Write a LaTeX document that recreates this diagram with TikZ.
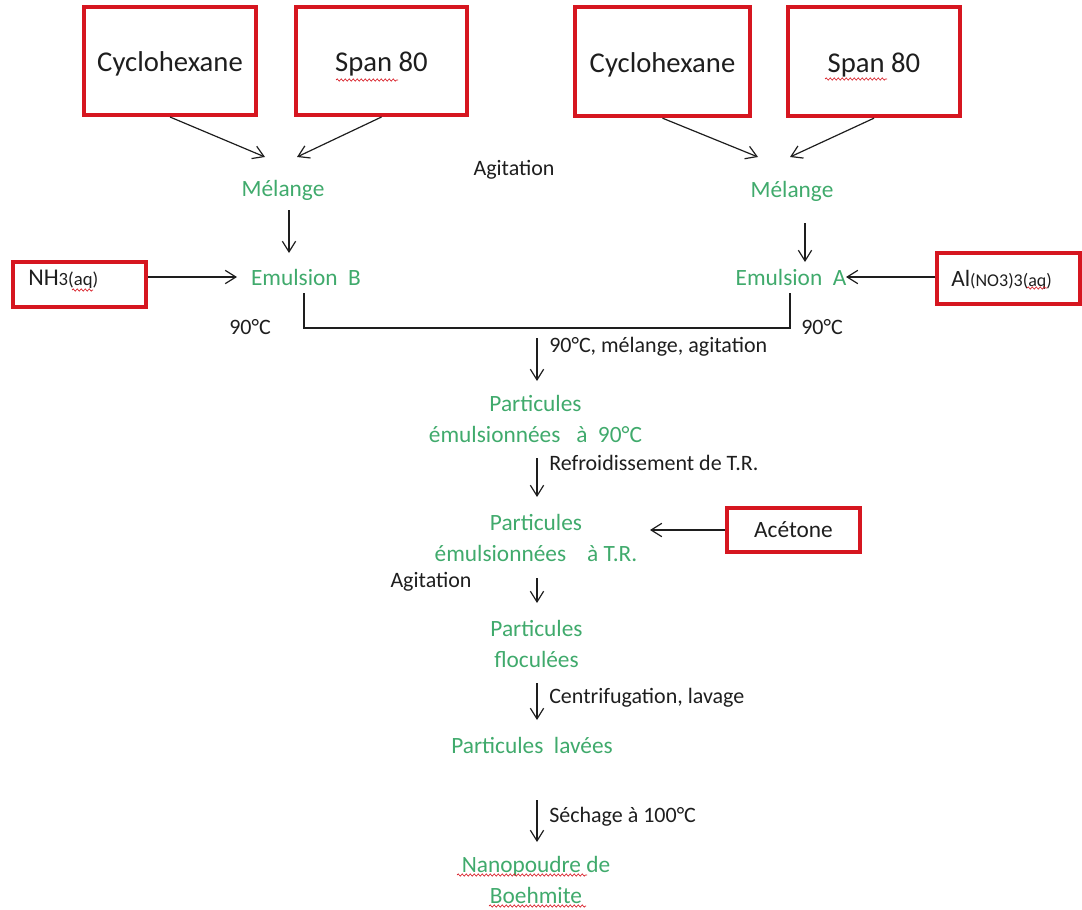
\documentclass[tikz,border=0pt]{standalone}
\usepackage{fontspec}
\setmainfont{Carlito}
\usetikzlibrary{arrows.meta,decorations.pathmorphing}
\definecolor{boxred}{RGB}{214,22,32}
\definecolor{grn}{RGB}{64,170,108}
\definecolor{ink}{RGB}{30,30,30}
\begin{document}
\begin{tikzpicture}[x=0.75pt,y=-0.75pt,
  redbox/.style={draw=boxred, line width=3pt, inner sep=0pt, font=\fontsize{21.5}{26}\selectfont, text=ink},
  topbox/.style={redbox, text height=18pt, text depth=2pt},
  greentxt/.style={text=grn, font=\fontsize{17.5}{23}\selectfont, align=center, inner sep=0pt},
  lbl/.style={text=ink, font=\fontsize{16.5}{20}\selectfont, inner sep=0pt},
  chem/.style={text=ink, inner sep=0pt, anchor=base west},
  arr/.style={draw=ink, line width=0.9pt, -{Straight Barb[length=8pt,width=10pt]}},
  conn/.style={draw=ink, line width=0.9pt},
  squig/.style={draw=boxred, line width=0.5pt, decorate, decoration={snake, segment length=3pt, amplitude=0.8pt}}
]
\useasboundingbox (0,0) rectangle (1082,910);

% top boxes
\node[topbox, minimum width=129pt, minimum height=81pt] (cycL) at (170,61) {Cyclohexane};
\node[topbox, minimum width=128pt, minimum height=81pt] (spanL) at (381.5,61) {Span 80};
\node[topbox, minimum width=131pt, minimum height=82pt] (cycR) at (662.5,61.5) {Cyclohexane};
\node[topbox, minimum width=129pt, minimum height=82pt] (spanR) at (874,61.5) {Span 80};

% side boxes
\node[redbox, minimum width=100pt, minimum height=34pt] (nhbox) at (79.5,284.5) {};
\node[chem] (nhtxt) at (28,285) {\fontsize{18}{20}\selectfont NH\fontsize{14}{16}\selectfont 3(aq)};
\node[redbox, minimum width=107pt, minimum height=38pt] (albox) at (1008.5,278.5) {};
\node[chem] (altxt) at (951,286) {\fontsize{17.5}{20}\selectfont Al\fontsize{13.5}{16}\selectfont (NO3)3(aq)};
\node[redbox, minimum width=100pt, minimum height=33pt, font=\fontsize{17.5}{20}\selectfont] (acet) at (793.5,530) {Acétone};

% green texts
\node[greentxt] (melL) at (283,190) {Mélange};
\node[greentxt] (emB) at (306,277) {Emulsion \ B};
\node[greentxt] (melR) at (792,191) {Mélange};
\node[greentxt] (emA) at (791,277) {Emulsion \ A};
\node[greentxt] (p90) at (535.5,419) {Particules\\émulsionnées \ \ à \ 90°C};
\node[greentxt] (pTR) at (536,538) {Particules\\émulsionnées \ \ \ à T.R.};
\node[greentxt] (pFl) at (536.5,644) {Particules\\floculées};
\node[greentxt] (pLav) at (532,745) {Particules \ lavées};
\node[greentxt] (nano) at (536,880) {Nanopoudre de\\Boehmite};

% black labels
\node[lbl] (agit1) at (514,170) {Agitation};
\node[lbl] (agit2) at (431,582) {Agitation};
\node[lbl] (t90L) at (250,327) {90°C};
\node[lbl] (t90R) at (822,327) {90°C};
\node[lbl, anchor=west] (l1) at (549,347) {90°C, mélange, agitation};
\node[lbl, anchor=west] (l2) at (549,463) {Refroidissement de T.R.};
\node[lbl, anchor=west] (l3) at (549,698) {Centrifugation, lavage};
\node[lbl, anchor=west] (l4) at (549,817) {Séchage à 100°C};

% coordinates for arrow ends
\coordinate (m1) at (265,157);
\coordinate (m2) at (297,157);
\coordinate (m3) at (758,157);
\coordinate (m4) at (790,157);
\coordinate (mLb) at (289,210);
\coordinate (eBt) at (289,253);
\coordinate (mRb) at (805,223);
\coordinate (eAt) at (805,262);
\coordinate (eBl) at (237,277);
\coordinate (eAr) at (846,277);
\coordinate (jB) at (304,293);
\coordinate (cB) at (304,328);
\coordinate (cA) at (790,328);
\coordinate (jA) at (790,293);
\coordinate (a1s) at (537,338);
\coordinate (a1e) at (537,381);
\coordinate (a2s) at (537,458);
\coordinate (a2e) at (537,497);
\coordinate (a3s) at (537,578);
\coordinate (a3e) at (537,603);
\coordinate (a4s) at (537,683);
\coordinate (a4e) at (537,720);
\coordinate (a5s) at (537,800);
\coordinate (a5e) at (537,842);
\coordinate (acE) at (650,530);

% arrows
\draw[arr] (cycL.south) -- (m1);
\draw[arr] (spanL.south) -- (m2);
\draw[arr] (cycR.south) -- (m3);
\draw[arr] (spanR.south) -- (m4);
\draw[arr] (mLb) -- (eBt);
\draw[arr] (mRb) -- (eAt);
\draw[arr] (nhbox.east |- eBl) -- (eBl);
\draw[arr] (albox.west |- eAr) -- (eAr);
\draw[conn] (jB) -- (cB) -- (cA) -- (jA);
\draw[arr] (a1s) -- (a1e);
\draw[arr] (a2s) -- (a2e);
\draw[arr] (a3s) -- (a3e);
\draw[arr] (a4s) -- (a4e);
\draw[arr] (a5s) -- (a5e);
\draw[arr] (acet.west) -- (acE);

% spell-check squiggles
\draw[squig] (336,80) -- (398,80);
\draw[squig] (825,79) -- (887,79);
\draw[squig] (72,290) -- (93,290);
\draw[squig] (1027,288) -- (1047,288);
\draw[squig] (457,875) -- (587,875);
\draw[squig] (489,906) -- (586,906);
\end{tikzpicture}
\end{document}
